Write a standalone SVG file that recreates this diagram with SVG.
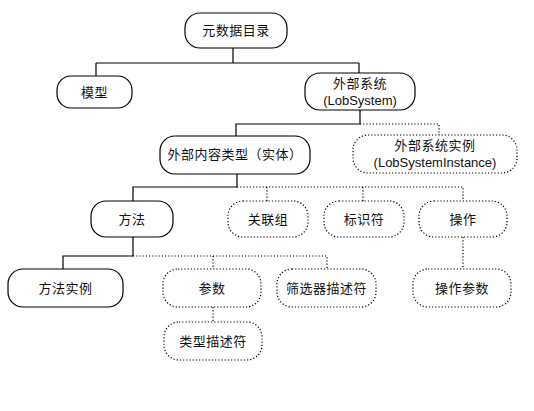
<svg xmlns="http://www.w3.org/2000/svg" width="534" height="411" viewBox="0 0 534 411">
<style>
.n{fill:#fff;stroke:#000;stroke-width:1.2}
.d{fill:#fff;stroke:#000;stroke-width:1.2;stroke-dasharray:1.2 2}
.t{font-family:"Liberation Sans","Noto Sans CJK SC",sans-serif;font-size:13px;fill:#111;text-anchor:middle;letter-spacing:0.5px}
.s{fill:none;stroke:#000;stroke-width:1.2}
.ds{fill:none;stroke:#000;stroke-width:1.2;stroke-dasharray:1.2 2}
</style>
<rect width="534" height="411" fill="#fff"/>
<g id="connectors">
<path class="s" d="M233 48V63M96 63H359M96 63V76M359 63V73"/>
<path class="s" d="M360 110V124H236V136"/>
<path class="ds" d="M360 124H439V135"/>
<path class="s" d="M237 174V187H133V201"/>
<path class="ds" d="M237 187H463V201M267 187V201M363 187V201"/>
<path class="s" d="M133 237V256H63V269"/>
<path class="ds" d="M133 256H327V269M213 256V269"/>
<path class="ds" d="M463 237V269"/>
<path class="ds" d="M213 307V322"/>
</g>
<g id="root"><rect class="n" x="185" y="13" width="102" height="35" rx="15"/><text class="t" x="236" y="35">元数据目录</text></g>
<g id="model"><rect class="n" x="57" y="76" width="75" height="32" rx="14"/><text class="t" x="94.5" y="97">模型</text></g>
<g id="lobsystem"><rect class="n" x="305" y="73" width="110" height="37" rx="15"/><text class="t" x="360" y="88">外部系统</text><text class="t" x="360" y="105" style="letter-spacing:0">(LobSystem)</text></g>
<g id="entity"><rect class="n" x="160" y="136" width="150" height="38" rx="15"/><text class="t" x="235" y="159">外部内容类型（实体）</text></g>
<g id="lobsysteminstance"><rect class="d" x="353" y="135" width="164" height="38" rx="15"/><text class="t" x="435" y="150">外部系统实例</text><text class="t" x="435" y="167" style="letter-spacing:0">(LobSystemInstance)</text></g>
<g id="method"><rect class="n" x="91" y="201" width="82" height="36" rx="15"/><text class="t" x="132" y="224">方法</text></g>
<g id="association"><rect class="d" x="228" y="201" width="80" height="36" rx="15"/><text class="t" x="268" y="224">关联组</text></g>
<g id="identifier"><rect class="d" x="324" y="201" width="80" height="36" rx="15"/><text class="t" x="364" y="224">标识符</text></g>
<g id="action"><rect class="d" x="419" y="201" width="88" height="36" rx="15"/><text class="t" x="463" y="224">操作</text></g>
<g id="methodinstance"><rect class="n" x="8" y="269" width="115" height="38" rx="15"/><text class="t" x="65.5" y="293">方法实例</text></g>
<g id="parameter"><rect class="d" x="163" y="269" width="98" height="38" rx="15"/><text class="t" x="212" y="293">参数</text></g>
<g id="filter"><rect class="d" x="277" y="269" width="99" height="38" rx="15"/><text class="t" x="326.5" y="293">筛选器描述符</text></g>
<g id="actionparameter"><rect class="d" x="413" y="269" width="98" height="38" rx="15"/><text class="t" x="462" y="293">操作参数</text></g>
<g id="typedescriptor"><rect class="d" x="164" y="322" width="98" height="38" rx="15"/><text class="t" x="213" y="346">类型描述符</text></g>
</svg>
